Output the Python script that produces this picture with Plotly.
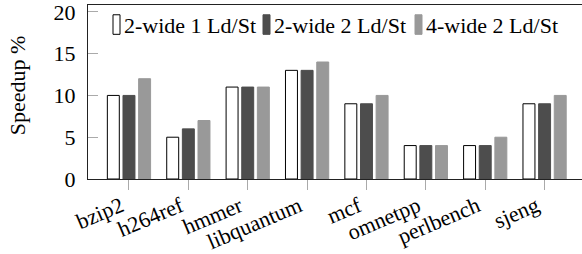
import plotly.graph_objects as go

benchmarks = ["bzip2", "h264ref", "hmmer", "libquantum", "mcf", "omnetpp", "perlbench", "sjeng"]
series_names = ["2-wide 1 Ld/St", "2-wide 2 Ld/St", "4-wide 2 Ld/St"]
wide2_1ldst = [10, 5, 11, 13, 9, 4, 4, 9]
wide2_2ldst = [10, 6, 11, 13, 9, 4, 4, 9]
wide4_2ldst = [12, 7, 11, 14, 10, 4, 5, 10]
y_ticks = [0, 5, 10, 15, 20]
y_title = "Speedup %"

series_values = [wide2_1ldst, wide2_2ldst, wide4_2ldst]
fills = ["#ffffff", "#4d4d4d", "#999999"]
edges = ["#000000", "#4d4d4d", "#999999"]

FONT = "Liberation Serif"
W, H = 582, 254
ML, MR, MT, MB = 88, 0, 2, 74
PW, PH = W - ML - MR, H - MT - MB

fig = go.Figure()
for name, vals, fc, ec in zip(series_names, series_values, fills, edges):
    fig.add_trace(go.Bar(
        x=benchmarks, y=vals, name=name,
        marker=dict(color=fc, line=dict(color=ec, width=1)),
        showlegend=False,
    ))

def px_x(p):
    return (p - ML) / PW

def px_y(p):
    return (H - MB - p) / PH

# custom legend (narrow tall boxes like the original)
legend_sym_x = [113, 263, 415]
shapes = []
annotations = []
for name, fc, ec, sx in zip(series_names, fills, edges, legend_sym_x):
    shapes.append(dict(type="rect", xref="paper", yref="paper",
                       x0=px_x(sx), x1=px_x(sx + 7), y0=px_y(32), y1=px_y(12),
                       fillcolor=fc, line=dict(color=ec, width=1)))
    annotations.append(dict(xref="paper", yref="paper", x=px_x(sx + 9), y=px_y(23),
                            xanchor="left", yanchor="middle", showarrow=False,
                            text=name, font=dict(family=FONT, size=22, color="black")))

annotations.append(dict(xref="paper", yref="paper", x=px_x(17), y=px_y(84),
                        xanchor="center", yanchor="middle", showarrow=False,
                        text=y_title, textangle=-90,
                        font=dict(family=FONT, size=22, color="black")))

fig.update_layout(
    width=W, height=H,
    margin=dict(l=ML, r=MR, t=MT, b=MB, pad=0),
    paper_bgcolor="white", plot_bgcolor="white",
    barmode="group", bargap=0.21, bargroupgap=0.235,
    font=dict(family=FONT, size=22, color="black"),
    shapes=shapes, annotations=annotations,
)
fig.update_xaxes(
    type="category", range=[-0.69, 7.63],
    showline=True, linecolor="#222222", linewidth=1, mirror=True,
    ticks="outside", ticklen=10, tickcolor="#aaaaaa", tickwidth=1,
    tickangle=-23, tickfont=dict(family=FONT, size=22, color="black"),
    ticklabeloverflow="allow", ticklabelstandoff=-5, ticklabelshift=-8,
    showgrid=False, zeroline=False,
)
fig.update_yaxes(
    range=[0, 20.82], tickvals=y_ticks, ticktext=[str(v) for v in y_ticks],
    showline=True, linecolor="#222222", linewidth=1,
    ticks="inside", ticklen=10, tickcolor="#aaaaaa", tickwidth=1,
    ticklabelstandoff=7, ticklabeloverflow="allow",
    tickfont=dict(family=FONT, size=22, color="black"),
    showgrid=False, zeroline=False,
)

fig.write_html("out.html", config={"displayModeBar": False},
               post_script="document.body.style.margin='0';document.body.style.padding='0';")
